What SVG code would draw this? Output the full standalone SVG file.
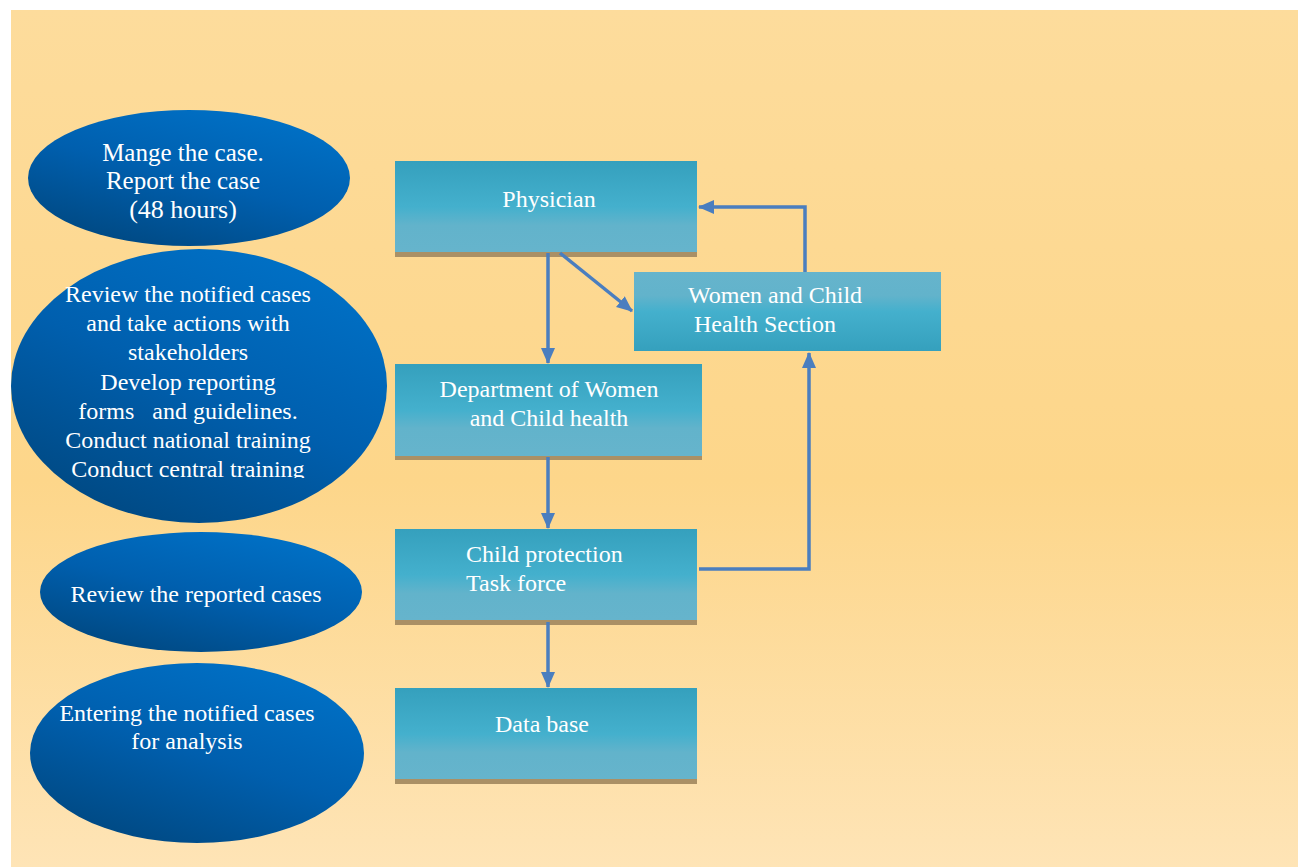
<svg xmlns="http://www.w3.org/2000/svg" width="1298" height="867" viewBox="0 0 1298 867">
<defs>
<linearGradient id="bg" x1="0" y1="0" x2="0" y2="1">
<stop offset="0" stop-color="#FDDC9C"/>
<stop offset="0.55" stop-color="#FDD68A"/>
<stop offset="1" stop-color="#FEE4B6"/>
</linearGradient>
<linearGradient id="box" x1="0" y1="0" x2="0" y2="1">
<stop offset="0" stop-color="#35A0BD"/>
<stop offset="0.5" stop-color="#44B0CD"/>
<stop offset="0.7" stop-color="#62B3CB"/>
<stop offset="1" stop-color="#66B4CC"/>
</linearGradient>
<linearGradient id="boxr" x1="0" y1="1" x2="0" y2="0">
<stop offset="0" stop-color="#35A0BD"/>
<stop offset="0.5" stop-color="#44B0CD"/>
<stop offset="0.7" stop-color="#62B3CB"/>
<stop offset="1" stop-color="#66B4CC"/>
</linearGradient>
<linearGradient id="ell" x1="0.2" y1="1" x2="0.8" y2="0">
<stop offset="0" stop-color="#00477F"/>
<stop offset="0.5" stop-color="#005FAE"/>
<stop offset="1" stop-color="#0072C8"/>
</linearGradient>
<marker id="ah" markerWidth="16" markerHeight="16" refX="15" refY="8" orient="auto" markerUnits="userSpaceOnUse" viewBox="0 0 16 16">
<path d="M0,1 L16,8 L0,15 z" fill="#4A7EBF"/>
</marker>
<clipPath id="clip2"><rect x="0" y="240" width="400" height="238"/></clipPath>
</defs>
<style>
.t{font-family:"Liberation Serif","Times New Roman",serif;font-size:24px;fill:#FFFFFF}
.m{text-anchor:middle}
.c{fill:none;stroke:#4A7EBF;stroke-width:3.5}
.bar{fill:#AA9065}
</style>
<rect x="11" y="10" width="1287" height="857" fill="url(#bg)"/>

<g id="e1">
<ellipse cx="189" cy="178" rx="161" ry="68" fill="url(#ell)"/>
<text class="t m" x="183" y="161" style="font-size:25px">Mange the case.</text>
<text class="t m" x="183" y="189" style="font-size:25px">Report the case</text>
<text class="t m" x="183" y="218" style="font-size:26px">(48 hours)</text>
</g>
<g id="e2">
<ellipse cx="199" cy="386" rx="188" ry="137" fill="url(#ell)"/>
<g clip-path="url(#clip2)">
<text class="t m" x="188" y="302">Review the notified cases</text>
<text class="t m" x="188" y="331">and take actions with</text>
<text class="t m" x="188" y="360">stakeholders</text>
<text class="t m" x="188" y="390">Develop reporting</text>
<text class="t m" x="188" y="419" xml:space="preserve">forms   and guidelines.</text>
<text class="t m" x="188" y="448">Conduct national training</text>
<text class="t m" x="188" y="477">Conduct central training</text>
</g>
</g>
<g id="e3">
<ellipse cx="201" cy="592" rx="161" ry="60" fill="url(#ell)"/>
<text class="t m" x="196" y="602">Review the reported cases</text>
</g>
<g id="e4">
<ellipse cx="197" cy="753" rx="167" ry="90" fill="url(#ell)"/>
<text class="t m" x="187" y="721">Entering the notified cases</text>
<text class="t m" x="187" y="749">for analysis</text>
</g>

<g id="physician">
<rect x="395" y="161" width="302" height="92" fill="url(#box)"/>
<rect class="bar" x="395" y="252" width="302" height="5"/>
<text class="t m" x="549" y="207">Physician</text>
</g>
<g id="wchs">
<rect x="634" y="272" width="307" height="79" fill="url(#boxr)"/>
<text class="t" x="688" y="303">Women and Child</text>
<text class="t" x="694" y="332">Health Section</text>
</g>
<g id="dept">
<rect x="395" y="364" width="307" height="92" fill="url(#box)"/>
<rect class="bar" x="395" y="456" width="307" height="4"/>
<text class="t m" x="549" y="397">Department of Women</text>
<text class="t m" x="549" y="426">and Child health</text>
</g>
<g id="cp">
<rect x="395" y="529" width="302" height="92" fill="url(#box)"/>
<rect class="bar" x="395" y="620" width="302" height="5"/>
<text class="t" x="466" y="562">Child protection</text>
<text class="t" x="466" y="591">Task force</text>
</g>
<g id="db">
<rect x="395" y="688" width="302" height="92" fill="url(#box)"/>
<rect class="bar" x="395" y="779" width="302" height="5"/>
<text class="t m" x="542" y="732">Data base</text>
</g>

<g id="connectors">
<line class="c" x1="548" y1="253" x2="548" y2="363" marker-end="url(#ah)"/>
<line class="c" x1="560" y1="253" x2="632" y2="311" marker-end="url(#ah)"/>
<polyline class="c" points="805,272 805,207 699,207" marker-end="url(#ah)"/>
<polyline class="c" points="699,569 809,569 809,353" marker-end="url(#ah)"/>
<line class="c" x1="548" y1="457" x2="548" y2="528" marker-end="url(#ah)"/>
<line class="c" x1="548" y1="622" x2="548" y2="687" marker-end="url(#ah)"/>
</g>
</svg>
